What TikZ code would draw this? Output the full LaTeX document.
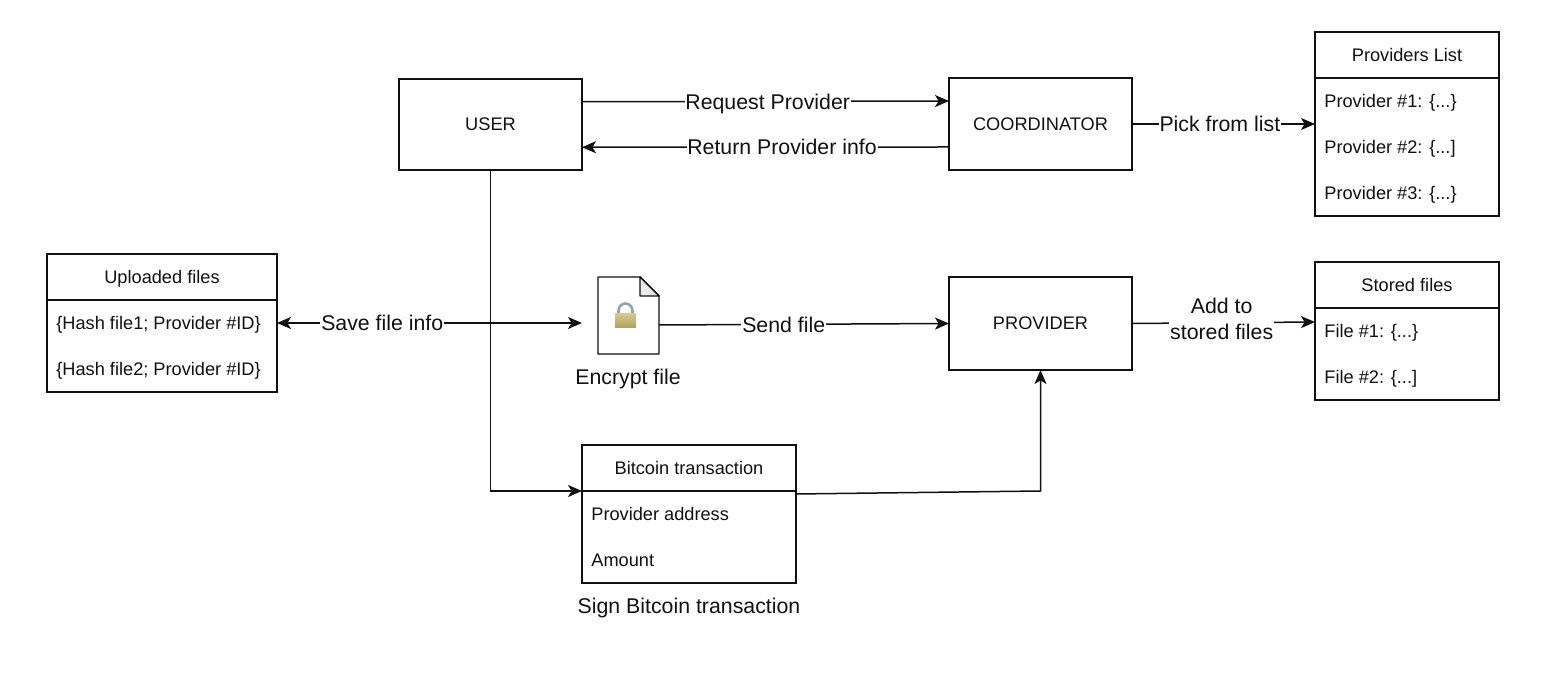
\documentclass[tikz,border=0pt]{standalone}
\usepackage{fontspec}
\setmainfont{Liberation Sans}
\usetikzlibrary{arrows.meta,calc}
\definecolor{ink}{HTML}{111111}
\definecolor{lockTop}{HTML}{D2C98C}
\definecolor{lockMid}{HTML}{C8BD78}
\definecolor{lockBot}{HTML}{ADA15A}
\definecolor{shackle}{HTML}{8FA3BC}
\tikzset{
  px/.style={x=0.5pt,y=-0.5pt},
  box/.style={draw=ink,line width=0.7pt,fill=white,inner sep=0pt,outer sep=0pt,font=\fontsize{9.1}{10}\selectfont,text=ink},
  title/.style={inner sep=0pt,font=\fontsize{9.1}{10}\selectfont,text=ink,anchor=center,text height=8pt,text depth=1.4pt},
  row/.style={inner sep=0pt,font=\fontsize{9.1}{10}\selectfont,text=ink,anchor=west,text height=8pt,text depth=1.4pt},
  rule/.style={draw=ink,line width=0.7pt},
  link/.style={draw=ink,line width=0.75pt,-{Stealth[length=7pt,width=6pt,inset=1.8pt]}},
  bothlink/.style={draw=ink,line width=0.75pt,{Stealth[length=7pt,width=6pt,inset=1.8pt]}-{Stealth[length=7pt,width=6pt,inset=1.8pt]}},
  lab/.style={fill=white,inner sep=0.4pt,font=\fontsize{10.65}{13}\selectfont,text=ink,text height=9.5pt,text depth=1.8pt},
  lablines/.style={fill=white,inner sep=0.4pt,font=\fontsize{10.65}{13}\selectfont,text=ink,align=center},
  captext/.style={inner sep=0pt,font=\fontsize{10.65}{13}\selectfont,text=ink,text height=9.5pt,text depth=1.8pt}
}
\begin{document}
\begin{tikzpicture}[px]
\useasboundingbox (0,0) rectangle (1546,688);
% main boxes
\node[box,minimum width=91.5pt,minimum height=45.5pt] (user) at (490.5,124.5) {USER};
\node[box,minimum width=91.5pt,minimum height=46pt] (coord) at (1040.5,124) {COORDINATOR};
\node[box,minimum width=91.5pt,minimum height=46.5pt] (prov) at (1040.5,323.5) {PROVIDER};
% Providers list
\node[box,minimum width=92pt,minimum height=92pt] (plist) at (1407,124) {};
\draw[rule] (plist.west |- 0,78) -- (plist.east |- 0,78);
\node[title] (plistT) at (1407,55) {Providers List};
\node[row] (p1) at (1324,101) {Provider \#1: \{...\}};
\node[row] (p2) at (1324,147) {Provider \#2: \{...]};
\node[row] (p3) at (1324,193) {Provider \#3: \{...\}};
% Stored files
\node[box,minimum width=92pt,minimum height=69pt] (stored) at (1407,331) {};
\draw[rule] (stored.west |- 0,308) -- (stored.east |- 0,308);
\node[title] (storedT) at (1407,285) {Stored files};
\node[row] (s1) at (1324,331) {File \#1: \{...\}};
\node[row] (s2) at (1324,377) {File \#2: \{...]};
% Uploaded files
\node[box,minimum width=115pt,minimum height=69pt] (up) at (162,323) {};
\draw[rule] (up.west |- 0,300) -- (up.east |- 0,300);
\node[title] (upT) at (162,277) {Uploaded files};
\node[row] (u1) at (56,323) {\{Hash file1; Provider \#ID\}};
\node[row] (u2) at (56,369) {\{Hash file2; Provider \#ID\}};
% Bitcoin transaction
\node[box,minimum width=107pt,minimum height=69pt] (btc) at (689,514) {};
\draw[rule] (btc.west |- 0,491) -- (btc.east |- 0,491);
\node[title] (btcT) at (689,468) {Bitcoin transaction};
\node[row] (b1) at (591,514) {Provider address};
\node[row] (b2) at (591,560) {Amount};
\node[captext] (btcC) at (689,606) {Sign Bitcoin transaction};
% encrypted file icon
\draw[rule,fill=white,line join=round] (598,277) -- (640,277) -- (659,296) -- (659,354) -- (598,354) -- cycle;
\draw[rule,fill=black!8,line join=round] (640,277) -- (640,296) -- (659,296) -- cycle;
\draw[draw=shackle,line width=1.3pt] (618.5,315) -- (618.5,311) arc[start angle=180,end angle=360,x radius=7,y radius=7.5] -- (632.5,315);
\shade[top color=lockTop,middle color=lockMid,bottom color=lockBot] (615,314) rectangle (636,328);
\node[inner sep=0pt,outer sep=0pt,minimum width=30.5pt,minimum height=38.5pt] (file) at (628.5,315.5) {};
\node[captext] (fileC) at (628,377) {Encrypt file};
% free ends
\coordinate (fileIn) at (582,323);
\coordinate (fileOut) at (659,325);
\coordinate (storedIn) at (1315,322);
% connectors
\draw[link] ($(user.north east)!0.25!(user.south east)$) -- node[lab,pos=0.506]{Request Provider} ($(coord.north west)!0.25!(coord.south west)$);
\draw[link] ($(coord.north west)!0.75!(coord.south west)$) -- node[lab,pos=0.455]{Return Provider info} ($(user.north east)!0.75!(user.south east)$);
\draw[link] (coord.east) -- node[lab,pos=0.48]{Pick from list} (plist.west);
\draw[bothlink] (up.east) -- node[lab,pos=0.345]{Save file info} (fileIn);
\draw[link] (fileOut) -- node[lab,pos=0.43]{Send file} (prov.west);
\draw[link] (prov.east) -- node[lablines,pos=0.49,yshift=2pt]{Add to\\stored files} (storedIn);
\coordinate (btcTurn) at (582,491);
\draw[link] (user.south) |- (btcTurn);
\coordinate (btcOut) at (796,494);
\coordinate (provTurn) at (1040.5,491);
\draw[link] (btcOut) -- (provTurn) -- (prov.south);
\end{tikzpicture}
\end{document}
